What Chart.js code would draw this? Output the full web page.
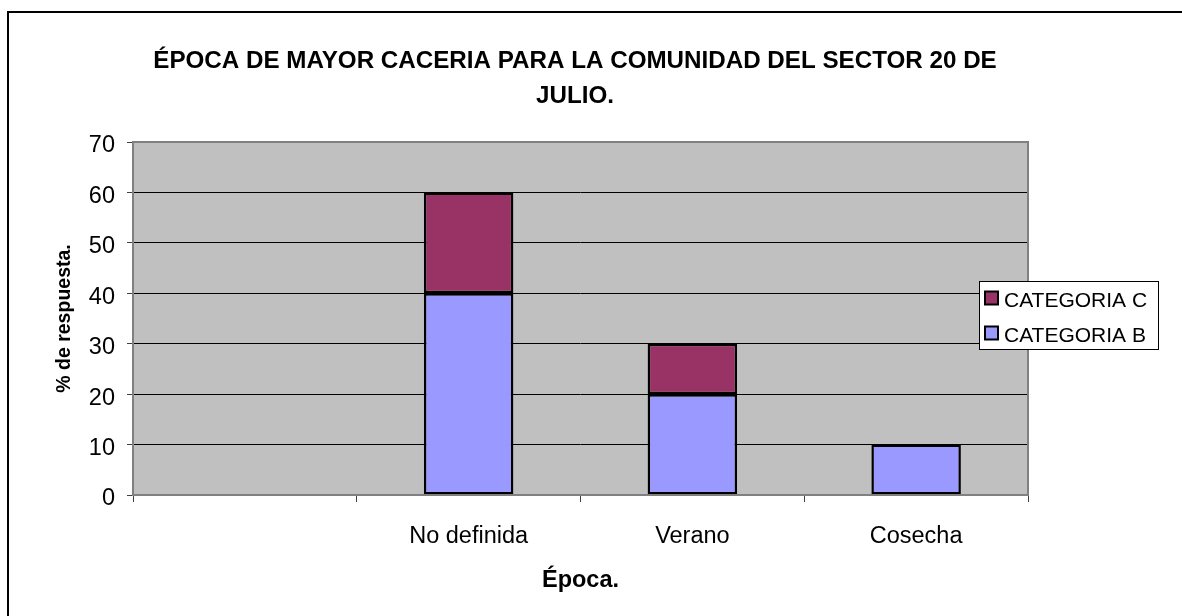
<!DOCTYPE html>
<html>
<head>
<meta charset="utf-8">
<script src="https://cdn.jsdelivr.net/npm/chart.js@4.4.0/dist/chart.umd.min.js"></script>
<style>
  html, body { margin: 0; padding: 0; background: #fff; }
  canvas { display: block; }
</style>
</head>
<body>
<canvas id="chart" width="1182" height="616"></canvas>
<script>
// Chart data
const titleLines = ['ÉPOCA DE MAYOR CACERIA PARA LA COMUNIDAD DEL SECTOR 20 DE', 'JULIO.'];
const categories = ['', 'No definida', 'Verano', 'Cosecha'];
const seriesNames = ['CATEGORIA B', 'CATEGORIA C'];
const categoriaB = [null, 40, 20, 10];
const categoriaC = [null, 20, 10, null];
const yTicks = [0, 10, 20, 30, 40, 50, 60, 70];
const xTitle = 'Época.';
const yTitle = '% de respuesta.';

const FONT = "'Liberation Sans', Arial, sans-serif";

// Page frame, centred title, plot background/border and boxed legend
const framePlugin = {
  id: 'frame',
  beforeDraw(chart) {
    const { ctx, chartArea: a } = chart;
    ctx.save();
    ctx.fillStyle = '#ffffff';
    ctx.fillRect(0, 0, chart.width, chart.height);
    ctx.fillStyle = '#C0C0C0';
    ctx.fillRect(a.left, a.top, a.right - a.left, a.bottom - a.top);

    ctx.strokeStyle = '#000';
    ctx.lineWidth = 2;
    ctx.beginPath();
    ctx.moveTo(8, chart.height + 5);
    ctx.lineTo(8, 12);
    ctx.lineTo(chart.width + 5, 12);
    ctx.stroke();

    ctx.fillStyle = '#000';
    ctx.font = 'bold 24.2px ' + FONT;
    ctx.textAlign = 'center';
    ctx.textBaseline = 'alphabetic';
    titleLines.forEach((t, i) => ctx.fillText(t, 575, 68 + i * 35));
    ctx.restore();
  },
  afterDraw(chart) {
    const { ctx, chartArea: a } = chart;
    ctx.save();
    ctx.strokeStyle = '#808080';
    ctx.lineWidth = 2;
    ctx.strokeRect(a.left, a.top, a.right - a.left, a.bottom - a.top);

    const bx = 979.5, by = 281.5, bw = 179, bh = 68;
    ctx.fillStyle = '#fff';
    ctx.fillRect(bx, by, bw, bh);
    ctx.strokeStyle = '#000';
    ctx.lineWidth = 1;
    ctx.strokeRect(bx, by, bw, bh);

    const items = chart.data.datasets.slice().reverse();
    ctx.font = '21px ' + FONT;
    ctx.textAlign = 'left';
    ctx.textBaseline = 'middle';
    items.forEach((ds, i) => {
      const cy = 298 + i * 35;
      ctx.fillStyle = ds.backgroundColor;
      ctx.fillRect(985, cy - 6.5, 13, 13);
      ctx.strokeStyle = '#000';
      ctx.lineWidth = 2;
      ctx.strokeRect(985, cy - 6.5, 13, 13);
      ctx.fillStyle = '#000';
      ctx.fillText(ds.label, 1004, cy + 3);
    });
    ctx.restore();
  }
};

new Chart(document.getElementById('chart'), {
  type: 'bar',
  data: {
    labels: categories,
    datasets: [
      {
        label: seriesNames[0],
        data: categoriaB,
        backgroundColor: '#9999FF',
        borderColor: '#000',
        borderWidth: 2.5,
        borderSkipped: false,
        barPercentage: 0.4,
        categoryPercentage: 1
      },
      {
        label: seriesNames[1],
        data: categoriaC,
        backgroundColor: '#993366',
        borderColor: '#000',
        borderWidth: 2.5,
        borderSkipped: false,
        barPercentage: 0.4,
        categoryPercentage: 1
      }
    ]
  },
  options: {
    responsive: false,
    animation: false,
    devicePixelRatio: 1,
    layout: { padding: { left: 53, right: 154, top: 142, bottom: 21 } },
    plugins: {
      legend: { display: false },
      title: { display: false },
      tooltip: { enabled: false }
    },
    scales: {
      x: {
        stacked: true,
        offset: true,
        grid: { offset: true, drawOnChartArea: false, tickLength: 7, tickColor: '#404040', tickWidth: 1 },
        border: { display: false },
        ticks: { color: '#000', font: { family: FONT, size: 23.5 }, padding: 20, maxRotation: 0, autoSkip: false },
        title: { display: true, text: xTitle, color: '#000', font: { family: FONT, size: 23.5, weight: 'bold' }, padding: { top: 0, bottom: 0 } },
        afterFit: s => { s.height = 100; }
      },
      y: {
        stacked: true,
        min: 0,
        max: 70,
        afterBuildTicks: s => { s.ticks = yTicks.map(v => ({ value: v })); },
        grid: {
          color: c => (c.tick && (c.tick.value === 0 || c.tick.value === 70)) ? 'rgba(0,0,0,0)' : '#000',
          lineWidth: 1,
          tickLength: 6,
          tickColor: '#404040'
        },
        border: { display: false },
        ticks: { color: '#000', font: { family: FONT, size: 23.5 }, padding: 12, labelOffset: 4 },
        title: { display: true, text: yTitle, color: '#000', font: { family: FONT, size: 19.5, weight: 'bold' }, padding: { top: 0, bottom: 0 } },
        afterFit: s => { s.width = 80; }
      }
    }
  },
  plugins: [framePlugin]
});
</script>
</body>
</html>
